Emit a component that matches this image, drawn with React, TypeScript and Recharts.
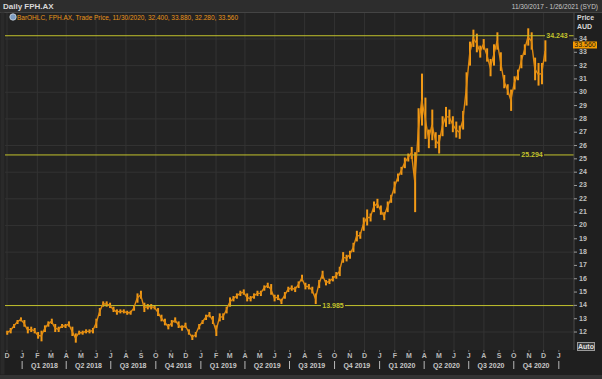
import React from 'react';
import { ComposedChart, Bar, Line, XAxis, YAxis, CartesianGrid, ReferenceLine } from 'recharts';

// weekly bars, first week starting 1 Dec 2017
const START = Date.UTC(2017, 11, 1);
const DAY = 86400000;

const lows = [
  11.8, 11.9, 12.3, 12.6, 12.8, 12.4, 11.9, 12.0, 11.9, 11.5,
  11.3, 12.0, 12.4, 12.6, 12.0, 12.0, 12.3, 12.3, 12.4, 11.7,
  11.2, 11.8, 11.8, 11.9, 11.9, 11.9, 12.3, 13.2, 13.9, 13.9,
  13.8, 13.5, 13.3, 13.4, 13.4, 13.3, 13.3, 13.6, 14.2, 14.5,
  13.5, 13.7, 13.7, 13.7, 13.2, 12.8, 12.5, 12.2, 12.4, 12.7,
  12.3, 12.1, 12.3, 11.8, 11.4, 11.6, 12.2, 12.6, 12.9, 13.1,
  12.6, 11.7, 12.8, 12.9, 13.4, 13.9, 14.3, 14.5, 14.7, 14.8,
  14.3, 14.3, 14.5, 14.7, 14.7, 15.1, 15.3, 14.8, 14.3, 14.4,
  14.1, 14.5, 15.0, 15.1, 15.0, 15.3, 15.8, 15.2, 15.2, 14.9,
  14.1, 15.3, 16.0, 15.5, 15.6, 15.8, 16.0, 16.2, 17.2, 17.3,
  17.5, 18.0, 18.8, 19.0, 19.6, 20.0, 20.3, 21.0, 21.3, 20.8,
  20.4, 21.0, 21.7, 22.4, 23.3, 23.8, 24.3, 24.8, 25.0, 21.0,
  25.5, 27.5, 26.5, 25.8, 26.4, 25.8, 25.4, 26.7, 27.4, 27.6,
  27.0, 26.6, 26.5, 27.2, 29.0, 32.0, 33.4, 33.0, 32.6, 33.2,
  32.3, 31.2, 32.0, 33.2, 31.6, 30.3, 29.8, 28.6, 30.2, 30.9,
  31.8, 32.8, 33.5, 33.2, 30.9, 30.5, 30.6, 32.3,
];

const highs = [
  12.1, 12.3, 12.6, 12.9, 13.1, 12.9, 12.4, 12.4, 12.3, 12.0,
  12.1, 12.5, 12.8, 13.0, 12.6, 12.4, 12.6, 12.6, 12.8, 12.4,
  11.9, 12.1, 12.1, 12.2, 12.2, 12.3, 13.0, 13.8, 14.3, 14.3,
  14.2, 13.9, 13.7, 13.7, 13.7, 13.6, 13.6, 14.0, 14.9, 15.1,
  14.2, 14.1, 14.1, 14.0, 13.8, 13.3, 13.0, 12.6, 12.9, 13.1,
  12.8, 12.5, 12.7, 12.2, 11.8, 12.0, 12.6, 12.9, 13.3, 13.5,
  13.2, 12.5, 13.4, 13.4, 13.9, 14.6, 14.7, 14.9, 15.1, 15.2,
  14.9, 14.7, 14.9, 15.1, 15.1, 15.5, 15.7, 15.6, 14.8, 14.8,
  14.5, 15.0, 15.4, 15.5, 15.4, 15.8, 16.3, 15.7, 15.6, 15.4,
  14.9, 15.9, 16.6, 15.9, 16.0, 16.2, 16.5, 16.9, 18.0, 17.8,
  18.1, 18.7, 19.6, 19.5, 20.6, 21.2, 20.9, 21.8, 22.0, 21.5,
  21.0, 21.8, 22.3, 23.3, 23.9, 24.4, 25.1, 25.4, 25.9, 25.5,
  28.8, 31.4, 29.6, 27.2, 28.7, 27.0, 26.8, 28.2, 28.9, 28.7,
  28.2, 27.8, 27.5, 28.6, 31.5, 33.8, 34.7, 34.4, 33.5, 34.0,
  33.3, 32.5, 33.6, 34.5, 33.0, 31.3, 30.6, 30.2, 31.2, 31.7,
  32.8, 33.6, 34.8, 34.5, 32.6, 32.2, 32.2, 33.9,
];

const levels = [34.243, 25.294, 13.985];
const levelLabelX = [557, 532, 333];

const priceTicks = [12, 13, 14, 15, 16, 17, 18, 19, 20, 21, 22, 23, 24, 25, 26, 27, 28, 29, 30, 31, 32, 33, 34];
const gridPrices = [12, 14, 16, 18, 20, 22, 24, 26, 28, 30, 32, 34];

const MONTH_LETTERS = ['J', 'F', 'M', 'A', 'M', 'J', 'J', 'A', 'S', 'O', 'N', 'D'];
const QUARTERS = [
  'Q1 2018', 'Q2 2018', 'Q3 2018', 'Q4 2018',
  'Q1 2019', 'Q2 2019', 'Q3 2019', 'Q4 2019',
  'Q1 2020', 'Q2 2020', 'Q3 2020', 'Q4 2020',
];

const monthTicks: number[] = [];
for (let k = 0; k <= 37; k++) {
  monthTicks.push(Math.round((Date.UTC(2017, 11 + k, 1) - START) / DAY));
}
const gridMonths = monthTicks.filter((_, k) => k % 2 === 0);

const data = lows.map((lo, i) => ({ d: i * 7, range: [lo, highs[i]], mid: (lo + highs[i]) / 2 }));

const FONT = '"Liberation Sans", Arial, sans-serif';
const YELLOW = '#c2c22c';
const ORANGE = '#f29a16';

function MonthTick(props: any) {
  const { x, payload } = props;
  const dt = new Date(START + payload.value * DAY);
  const m = dt.getUTCMonth();
  const qi = (dt.getUTCFullYear() - 2018) * 4 + m / 3;
  const qStart = m % 3 === 0 && payload.value > 0;
  return (
    <g>
      <line x1={x} x2={x} y1={350} y2={352} stroke="#6a6a6a" />
      <text x={x} y={358} textAnchor="middle" fill="#b8b8b8" fontSize={7} fontWeight="bold" fontFamily={FONT}>
        {MONTH_LETTERS[m]}
      </text>
      {qStart && <line x1={x} x2={x} y1={361} y2={369} stroke="#b8b8b8" />}
      {qStart && QUARTERS[qi] && (
        <text x={x + 22.3} y={367.5} textAnchor="middle" fill="#c8c8c8" fontSize={7} fontWeight="bold" fontFamily={FONT}>
          {QUARTERS[qi]}
        </text>
      )}
    </g>
  );
}

function PriceTick(props: any) {
  const { y, payload } = props;
  return (
    <g>
      <line x1={574} x2={577} y1={y} y2={y} stroke="#9a9a9a" />
      <text x={579} y={y + 2} fill="#c0c0c0" fontSize={7} fontWeight="bold" fontFamily={FONT}>
        {payload.value}
      </text>
    </g>
  );
}

function LevelLabel(props: any) {
  const { viewBox, cx, text } = props;
  const y = viewBox.y;
  return (
    <g>
      <rect x={cx - 12} y={y - 4} width={24} height={8} fill="#232323" />
      <text x={cx} y={y + 2.5} textAnchor="middle" fill={YELLOW} fontSize={7} fontWeight="bold" fontFamily={FONT}>
        {text}
      </text>
    </g>
  );
}

export default function App() {
  return (
    <div style={{ position: 'fixed', left: 0, top: 0, width: 602, height: 379, background: '#1f1f1f', overflow: 'hidden' }}>
      <ComposedChart width={602} height={379} data={data} margin={{ top: 13, right: 0, bottom: 0, left: 5 }}>
        <CartesianGrid
          fill="#232323"
          stroke="#333333"
          horizontalValues={gridPrices}
          verticalValues={gridMonths}
        />
        <XAxis
          type="number"
          dataKey="d"
          domain={[-4, 1158]}
          allowDataOverflow
          ticks={monthTicks}
          interval={0}
          tick={<MonthTick />}
          tickLine={false}
          axisLine={false}
          height={29}
        />
        <YAxis
          orientation="right"
          type="number"
          domain={[10.65, 35.95]}
          allowDataOverflow
          ticks={priceTicks}
          interval={0}
          tick={<PriceTick />}
          tickLine={false}
          axisLine={{ stroke: '#4a4a4a' }}
          width={28}
        />
        {levels.map((v, k) => (
          <ReferenceLine
            key={v}
            y={v}
            stroke={YELLOW}
            strokeWidth={1}
            label={<LevelLabel cx={levelLabelX[k]} text={v.toFixed(3)} />}
          />
        ))}
        <Bar dataKey="range" fill={ORANGE} barSize={2} isAnimationActive={false} />
        <Line dataKey="mid" type="linear" stroke="#e08a10" strokeWidth={1.4} dot={false} isAnimationActive={false} />
      </ComposedChart>
      <svg width={602} height={379} style={{ position: 'absolute', left: 0, top: 0, pointerEvents: 'none' }}>
        <rect x={0} y={0} width={602} height={12} fill="#2d2d2d" />
        <line x1={0} x2={602} y1={12.5} y2={12.5} stroke="#444" />
        <rect x={0.5} y={12.5} width={4} height={362} fill="#2a2a2a" />
        <rect x={0} y={375} width={602} height={4} fill="#333" />
        <text x={3} y={9} fill="#d8d8d8" fontSize={8} fontWeight="bold" fontFamily={FONT}>Daily FPH.AX</text>
        <text x={598} y={9} textAnchor="end" fill="#c8c8c8" fontSize={6.5} fontFamily={FONT}>
          11/30/2017 - 1/26/2021 (SYD)
        </text>
        <circle cx={13} cy={17} r={3.2} fill="#7d9cc0" stroke="#d0d8e0" strokeWidth={0.8} />
        <text x={17} y={19.5} fill="#e8951a" fontSize={7} fontFamily={FONT} textLength={221} lengthAdjust="spacingAndGlyphs">
          BarOHLC, FPH.AX, Trade Price, 11/30/2020, 32.400, 33.880, 32.280, 33.560
        </text>
        <text x={577} y={19.5} fill="#d8d8d8" fontSize={7} fontWeight="bold" fontFamily={FONT}>Price</text>
        <text x={577} y={28.5} fill="#d8d8d8" fontSize={7} fontWeight="bold" fontFamily={FONT}>AUD</text>
        <rect x={573} y={41.5} width={24} height={7} fill="#f59c00" />
        <text x={585} y={47.3} textAnchor="middle" fill="#1a1a1a" fontSize={7} fontFamily={FONT}>33.560</text>
        <rect x={577.5} y={342.5} width={17} height={8} fill="#3a3a3a" stroke="#9a9a9a" />
        <text x={586} y={349} textAnchor="middle" fill="#e0e0e0" fontSize={7} fontWeight="bold" fontFamily={FONT}>Auto</text>
      </svg>
    </div>
  );
}
